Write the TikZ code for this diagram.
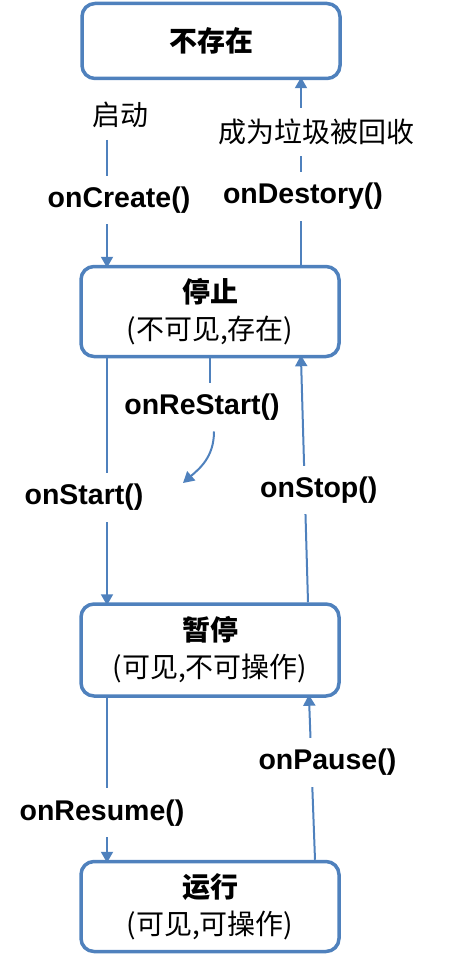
\documentclass[tikz,border=0pt]{standalone}
\usepackage{fontspec}
\setmainfont{Liberation Sans}
\newfontfamily\cjk{Noto Sans CJK SC}
\usetikzlibrary{arrows.meta}
\definecolor{lineblue}{RGB}{79,129,189}
\tikzset{
  stage/.style={draw=lineblue,line width=3.5pt,rounded corners=13pt,minimum width=258pt,
    minimum height=90pt,align=center,inner sep=0pt,font=\cjk\fontsize{28}{37}\selectfont},
  call/.style={fill=white,inner xsep=2pt,inner ysep=11pt,font=\bfseries\fontsize{28.5}{34}\selectfont},
  note/.style={fill=white,inner xsep=2pt,inner ysep=11pt,font=\cjk\fontsize{28}{34}\selectfont},
  link/.style={draw=lineblue,line width=2pt},
  >={Triangle[length=11pt,width=12pt]},
}

\begin{document}
\begin{tikzpicture}[x=1pt,y=-1pt]
  \useasboundingbox (0,0) rectangle (474,960);
  % states
  \node[stage,minimum height=75pt] (gone)    at (211,41)    {\bfseries 不存在};
  \node[stage]                     (stopped) at (210,311.5) {{\bfseries 停止}\\(不可见,存在)};
  \node[stage,minimum height=92pt] (paused)  at (210,650)   {{\bfseries 暂停}\\(可见,不可操作)};
  \node[stage]                     (running) at (210,906.5) {{\bfseries 运行}\\(可见,可操作)};
  \node[note,fill=none]            (launch)  at (120,115)   {启动};
  \node[call]                      (restart) at (202,407)   {onReStart()};
  \coordinate (born) at (107,140);
  \coordinate (back) at (183,483);
  % transitions
  \path[->,every edge/.style={link,shorten >=-3pt}]
    (born) edge node[call,pos=0.48,xshift=12pt] {onCreate()} ([xshift=-103pt]stopped.north)
    ([xshift=91pt]stopped.north) edge node[note,pos=0.72,xshift=15pt] {成为垃圾被回收}
                                      node[call,pos=0.37,xshift=2pt] {onDestory()} ([xshift=90pt]gone.south)
    ([xshift=-103pt]stopped.south) edge node[call,pos=0.57,xshift=-23pt] {onStart()} ([xshift=-103pt]paused.north)
    ([xshift=98pt]paused.north) edge node[call,pos=0.46,xshift=14pt] {onStop()} ([xshift=91pt]stopped.south)
    ([xshift=-103pt]paused.south) edge node[call,pos=0.71,xshift=-5pt] {onResume()} ([xshift=-103pt]running.north)
    ([xshift=105pt]running.north) edge node[call,pos=0.6,xshift=16pt] {onPause()} ([xshift=99pt]paused.south);
  \draw[link] (stopped.south) -- ([xshift=8pt]restart.north);
  \draw[link,->] ([xshift=12pt]restart.south) .. controls +(0,26) and +(16,-14) .. (back);
\end{tikzpicture}
\end{document}
